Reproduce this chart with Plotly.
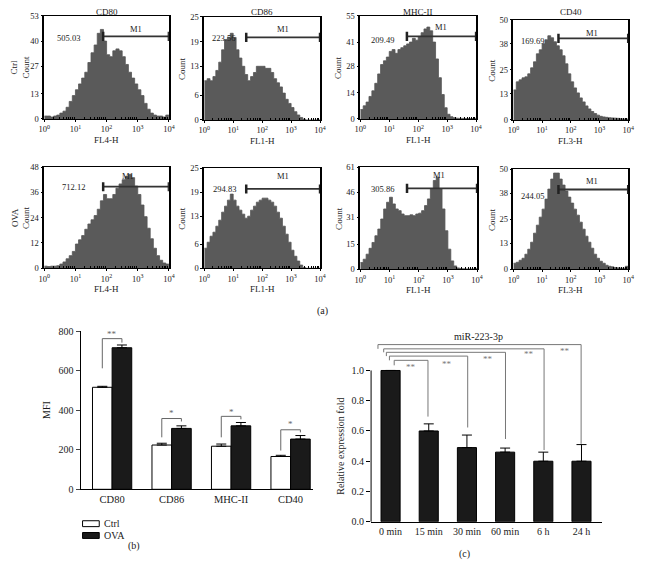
import math
import plotly.graph_objects as go

W, H = 646, 567
def px(x): return x / W
def py(y): return 1 - y / H

# ---------------- data ----------------
panels = ["CD80", "CD86", "MHC-II", "CD40"]
channels = ["FL4-H", "FL1-H", "FL1-H", "FL3-H"]
row_labels = ["Ctrl", "OVA"]
# histogram bins: 40 bins of 0.1 decade from 10^0 to 10^4 (log10 units); left edges + final edge
bin_edges = [round(0.1 * i, 1) for i in range(41)]

ctrl_cd80 = [1.5, 1.5, 1, 1.5, 2, 3, 4, 6, 9, 12, 15, 18, 21, 24, 29, 34, 38, 44, 46, 40,
             33, 32, 35, 36, 35, 32, 28, 24, 21, 18, 15, 12, 8, 5, 3, 2, 1.5, 1.5, 1, 2]
ctrl_cd86 = [9.5, 10, 9.5, 10.5, 12, 14, 17, 19.5, 20, 21, 20, 17, 15, 13, 11, 9.5, 10.5, 11.5, 13, 13,
             13, 12.5, 12.5, 11.5, 10, 9, 8, 6.5, 5, 4, 3, 2, 1.2, 0.6, 0.2, 0, 0, 0, 0, 0]
ctrl_mhc = [5, 7, 9, 12, 15, 19, 24, 29, 31, 33, 36, 37, 35, 37, 38, 39, 40, 41, 43, 42,
            44, 46, 48, 49, 47, 41, 32, 22, 13, 6, 2.5, 1.2, 0.7, 0.4, 0.3, 0.3, 0.2, 0.2, 0.2, 0.3]
ctrl_cd40 = [15, 19, 20, 21, 21.5, 23, 26, 29, 33, 35, 38, 40, 42, 41, 39, 37, 35, 32, 28, 23,
             19, 16, 13.5, 11, 9, 7, 5.5, 4.2, 3.2, 2.4, 1.8, 1.5, 1.3, 1.1, 1, 0.9, 0.8, 0.6, 0.5, 0.4]
ova_cd80 = [1, 0.8, 1, 1, 1.2, 2, 3, 4.5, 6, 8, 11.5, 13.5, 15.5, 18.5, 21, 23, 25, 28, 32, 35,
            33, 33, 35, 38, 40, 42, 43.5, 44.5, 43, 39, 35, 30, 24.5, 19, 14, 9.5, 6, 3.8, 2.5, 2]
ova_cd86 = [5, 6.5, 8, 9, 10.5, 12, 14, 15.5, 17, 18.5, 17, 15.5, 14.5, 13.5, 12.5, 13, 14.5, 15.5, 16.5, 17,
            17.5, 17.5, 17, 16.5, 15.5, 14, 12.5, 10.5, 8.5, 6.5, 4.5, 3, 1.8, 0.8, 0.2, 0, 0, 0, 0, 0]
ova_mhc = [4, 6, 9, 12.5, 16, 20, 24, 30, 36, 40, 43, 39, 36, 35, 33, 32, 32, 32.5, 32, 33,
           33.5, 35, 38, 42, 48, 53, 55, 48, 36, 23, 12, 5, 2, 0.8, 0.4, 0.3, 0.2, 0.2, 0.2, 0.3]
ova_cd40 = [3, 3.5, 4.5, 5.5, 7.5, 10, 13.5, 18, 22, 26, 30, 35, 40, 45, 48, 48, 45, 42, 39, 36,
            33, 30, 27, 23.5, 20, 16.5, 13.5, 10.5, 7.5, 5.5, 4, 3, 2, 1.5, 1.2, 0.9, 0.7, 0.6, 0.5, 1.5]

hist_yticks = [[0, 13, 27, 40, 53], [0, 6, 13, 19, 25], [0, 14, 28, 41, 55], [0, 13, 25, 38, 50],
               [0, 12, 24, 36, 48], [0, 6, 13, 19, 25], [0, 15, 31, 46, 61], [0, 13, 25, 38, 50]]
gate_start = [1.89, 1.45, 1.61, 1.57, 1.89, 1.45, 1.60, 1.57]
gate_level = [42.4, 20.0, 44.0, 40.7, 38.7, 19.8, 48.3, 39.8]
mfi_text = ["505.03", "223.56", "209.49", "169.69", "712.12", "294.83", "305.86", "244.05"]
mfi_text_pos = [(0.77, 41.6), (0.66, 19.8), (0.76, 41.9), (0.68, 39.3),
                (0.93, 38.7), (0.69, 19.7), (0.76, 47.7), (0.68, 36.8)]
m1_pos = [(2.94, 46.3), (2.73, 22.0), (2.79, 48.9), (2.73, 43.4),
          (2.68, 44.0), (2.73, 23.0), (2.71, 56.0), (2.73, 44.0)]

mfi_cats = ["CD80", "CD86", "MHC-II", "CD40"]
mfi_ctrl = [516, 224, 218, 166]
mfi_ctrl_err = [5, 9, 11, 6]
mfi_ova = [716, 308, 321, 254]
mfi_ova_err = [14, 13, 17, 18]
mfi_ticks = [0, 200, 400, 600, 800]
mfi_sig = ["**", "*", "*", "*"]

time_cats = ["0 min", "15 min", "30 min", "60 min", "6 h", "24 h"]
rel_expr = [1.0, 0.60, 0.49, 0.46, 0.40, 0.40]
rel_err = [0.0, 0.047, 0.083, 0.027, 0.06, 0.11]
rel_ticks = [0.0, 0.2, 0.4, 0.6, 0.8, 1.0]

# ---------------- layout geometry ----------------
hist_rects = [(39, 166, 11, 116), (202, 320, 12, 117), (361, 479, 11, 116), (517, 634, 15, 117),
              (39, 166, 165, 268), (202, 320, 166, 268), (361, 480, 165, 269), (517, 634, 167, 269)]
FONT = "Liberation Serif"
TXT = "#1a1a1a"

fig = go.Figure()
layout = dict(width=W, height=H, margin=dict(l=0, r=0, t=0, b=0),
              paper_bgcolor="white", plot_bgcolor="white", showlegend=False,
              font=dict(family=FONT, size=9, color=TXT))
shapes, annots = [], []

def ann(x, y, text, size=9, xref="paper", yref="paper", angle=0, color=TXT, xanchor="center", yanchor="middle"):
    annots.append(dict(x=x, y=y, xref=xref, yref=yref, text=text, showarrow=False,
                       font=dict(family=FONT, size=size, color=color), textangle=angle,
                       xanchor=xanchor, yanchor=yanchor))

minor_vals = [n + math.log10(k) for n in range(4) for k in range(2, 10)]
hist_counts = [ctrl_cd80, ctrl_cd86, ctrl_mhc, ctrl_cd40, ova_cd80, ova_cd86, ova_mhc, ova_cd40]

for i, counts in enumerate(hist_counts):
    ax = i + 1
    x0, x1, yt, yb = hist_rects[i]
    ymax = hist_yticks[i][-1]
    xr, yr = f"x{ax}", f"y{ax}"
    fig.add_trace(go.Scatter(x=bin_edges, y=counts + [counts[-1]], mode="lines", line_shape="hv",
                             line=dict(color="#555", width=0.8), fill="tozeroy", fillcolor="#5a5a5a",
                             xaxis=xr, yaxis=yr, hoverinfo="skip"))
    layout[f"xaxis{ax}"] = dict(domain=[px(x0), px(x1)], anchor=yr, range=[0, 4],
                                tickmode="array", tickvals=[0, 1, 2, 3, 4],
                                ticktext=[f"10<sup>{k}</sup>" for k in range(5)],
                                ticks="outside", ticklen=2, tickcolor="black",
                                showline=True, linecolor="black", linewidth=1.3, mirror=True,
                                showgrid=False, zeroline=False, tickfont=dict(size=8.5),
                                minor=dict(tickmode="array", tickvals=minor_vals, ticks="inside",
                                           ticklen=2, tickcolor="black", showgrid=False))
    layout[f"yaxis{ax}"] = dict(domain=[py(yb), py(yt)], anchor=xr, range=[0, ymax],
                                tickmode="array", tickvals=hist_yticks[i],
                                ticks="outside", ticklen=2, tickcolor="black",
                                showline=True, linecolor="black", linewidth=1.5, mirror=True,
                                showgrid=False, zeroline=False, tickfont=dict(size=8.5))
    g, lvl = gate_start[i], gate_level[i]
    cap = 0.045 * ymax
    shapes.append(dict(type="line", xref=xr, yref=yr, x0=g, x1=4, y0=lvl, y1=lvl,
                       line=dict(color="#333", width=1.8)))
    for xx in (g, 4):
        shapes.append(dict(type="line", xref=xr, yref=yr, x0=xx, x1=xx, y0=lvl - cap, y1=lvl + cap,
                           line=dict(color="#222", width=2.5)))
    ann(mfi_text_pos[i][0], mfi_text_pos[i][1], mfi_text[i], size=8.5, xref=xr, yref=yr)
    ann(m1_pos[i][0], m1_pos[i][1], "M1", size=8.5, xref=xr, yref=yr)
    # axis titles
    xc = (x0 + x1) / 2
    ann(px(xc), py(yb + 21), channels[i % 4], size=9)
    yc = (yt + yb) / 2
    if i % 4 == 0:
        ann(px(14.5), py(yc), f"{row_labels[i // 4]}<br>Count", size=9, angle=-90)
    else:
        ann(px(x0 - 22), py(yc), "Count", size=9, angle=-90)
    if i < 4:
        ann(px(xc), 1.0, panels[i], size=9, yanchor="top")

ann(px(322), py(311), "(a)", size=10)

# ---------------- (b) MFI bar chart ----------------
idx_b = list(range(len(mfi_cats)))
fig.add_trace(go.Bar(x=idx_b, y=mfi_ctrl, width=0.33, offset=-0.33,
                     marker=dict(color="white", line=dict(color="black", width=1)),
                     error_y=dict(type="data", array=mfi_ctrl_err, arrayminus=[0] * 4, symmetric=False,
                                  color="black", thickness=1, width=5),
                     xaxis="x9", yaxis="y9", hoverinfo="skip"))
fig.add_trace(go.Bar(x=idx_b, y=mfi_ova, width=0.33, offset=0.0,
                     marker=dict(color="#1a1a1a", line=dict(color="black", width=1)),
                     error_y=dict(type="data", array=mfi_ova_err, arrayminus=[0] * 4, symmetric=False,
                                  color="black", thickness=1, width=5),
                     xaxis="x9", yaxis="y9", hoverinfo="skip"))
layout["xaxis9"] = dict(domain=[px(76), px(313)], anchor="y9", range=[-0.53, 3.38],
                        tickmode="array", tickvals=idx_b, ticktext=mfi_cats, ticks="",
                        showline=True, linecolor="black", linewidth=1, showgrid=False, zeroline=False,
                        tickfont=dict(size=10.5))
layout["yaxis9"] = dict(domain=[py(493), py(332)], anchor="x9", range=[0, 800],
                        tickmode="array", tickvals=mfi_ticks, ticks="outside", ticklen=4,
                        showline=True, linecolor="black", linewidth=1, showgrid=False, zeroline=False,
                        tickfont=dict(size=10))
ann(px(42), py(412), "MFI", size=10, angle=-90)
# significance brackets (left leg bottom, top, right leg bottom, star y)
b_br = [(612, 762, 742, 787), (263, 358, 343, 388), (263, 369, 354, 391), (196, 301, 288, 329)]
for k, (yl, ytop, yrr, ys) in enumerate(b_br):
    xl, xrr = k - 0.165, k + 0.165
    shapes.append(dict(type="path", xref="x9", yref="y9",
                       path=f"M {xl},{yl} L {xl},{ytop} L {xrr},{ytop} L {xrr},{yrr}",
                       line=dict(color="#666", width=1)))
    ann(k, ys, mfi_sig[k], size=9, xref="x9", yref="y9", color="#666")
# manual legend
shapes.append(dict(type="rect", xref="paper", yref="paper", x0=px(78), x1=px(95), y0=py(531), y1=py(525),
                   fillcolor="white", line=dict(color="black", width=1)))
shapes.append(dict(type="rect", xref="paper", yref="paper", x0=px(78), x1=px(95), y0=py(543), y1=py(537),
                   fillcolor="#1a1a1a", line=dict(color="black", width=1)))
ann(px(98), py(528), "Ctrl", size=10, xanchor="left")
ann(px(98), py(540), "OVA", size=10, xanchor="left")
ann(px(130), py(551), "(b)", size=10)

# ---------------- (c) miR-223-3p ----------------
idx_c = list(range(len(time_cats)))
fig.add_trace(go.Bar(x=idx_c, y=rel_expr, width=0.5,
                     marker=dict(color="#1a1a1a", line=dict(color="black", width=1)),
                     error_y=dict(type="data", array=rel_err, arrayminus=[0] * 6, symmetric=False,
                                  color="black", thickness=1, width=5),
                     xaxis="x10", yaxis="y10", hoverinfo="skip"))
layout["xaxis10"] = dict(domain=[px(372), px(607)], anchor="y10", range=[-0.51, 5.53],
                         tickmode="array", tickvals=idx_c, ticktext=time_cats, ticks="",
                         showline=True, linecolor="black", linewidth=1, showgrid=False, zeroline=False,
                         tickfont=dict(size=10))
layout["yaxis10"] = dict(domain=[py(526), py(332)], anchor="x10", range=[0, 1.26],
                         tickmode="array", tickvals=rel_ticks, ticktext=[f"{v:.1f}" for v in rel_ticks],
                         ticks="outside", ticklen=4, tickcolor="black",
                         showline=False, showgrid=False, zeroline=False, tickfont=dict(size=10))
shapes.append(dict(type="line", xref="paper", yref="paper", x0=px(372), x1=px(372), y0=py(526), y1=py(372),
                   line=dict(color="black", width=1)))
ann(px(340), py(449), "Relative expression fold", size=10, angle=-90)
ann(px(481), py(337), "miR-223-3p", size=10)
# brackets: (left x, top y, left leg bottom, right x, right leg bottom)
c_br = [(0.095, 1.067, 1.034, 0.98, 0.695), (-0.03, 1.095, 1.067, 2.02, 0.623),
        (-0.11, 1.12, 1.095, 3.01, 0.547), (-0.18, 1.143, 1.12, 4.02, 0.474),
        (-0.33, 1.171, 1.143, 4.99, 0.515)]
for (xl, ytop, yl, xrr, yrr) in c_br:
    shapes.append(dict(type="path", xref="x10", yref="y10",
                       path=f"M {xl},{yl} L {xl},{ytop} L {xrr},{ytop} L {xrr},{yrr}",
                       line=dict(color="#777", width=1)))
c_stars = [(0.53, 1.02), (1.49, 1.04), (2.54, 1.078), (3.63, 1.11), (4.56, 1.128)]
for (sx, sy) in c_stars:
    ann(sx, sy, "**", size=9, xref="x10", yref="y10", color="#777")
ann(px(467), py(559), "(c)", size=10)

layout["shapes"] = shapes
layout["annotations"] = annots
fig.update_layout(**layout)
fig.write_html("out.html", config={"displayModeBar": False},
               post_script="document.body.style.margin='0';document.body.style.overflow='hidden';")
